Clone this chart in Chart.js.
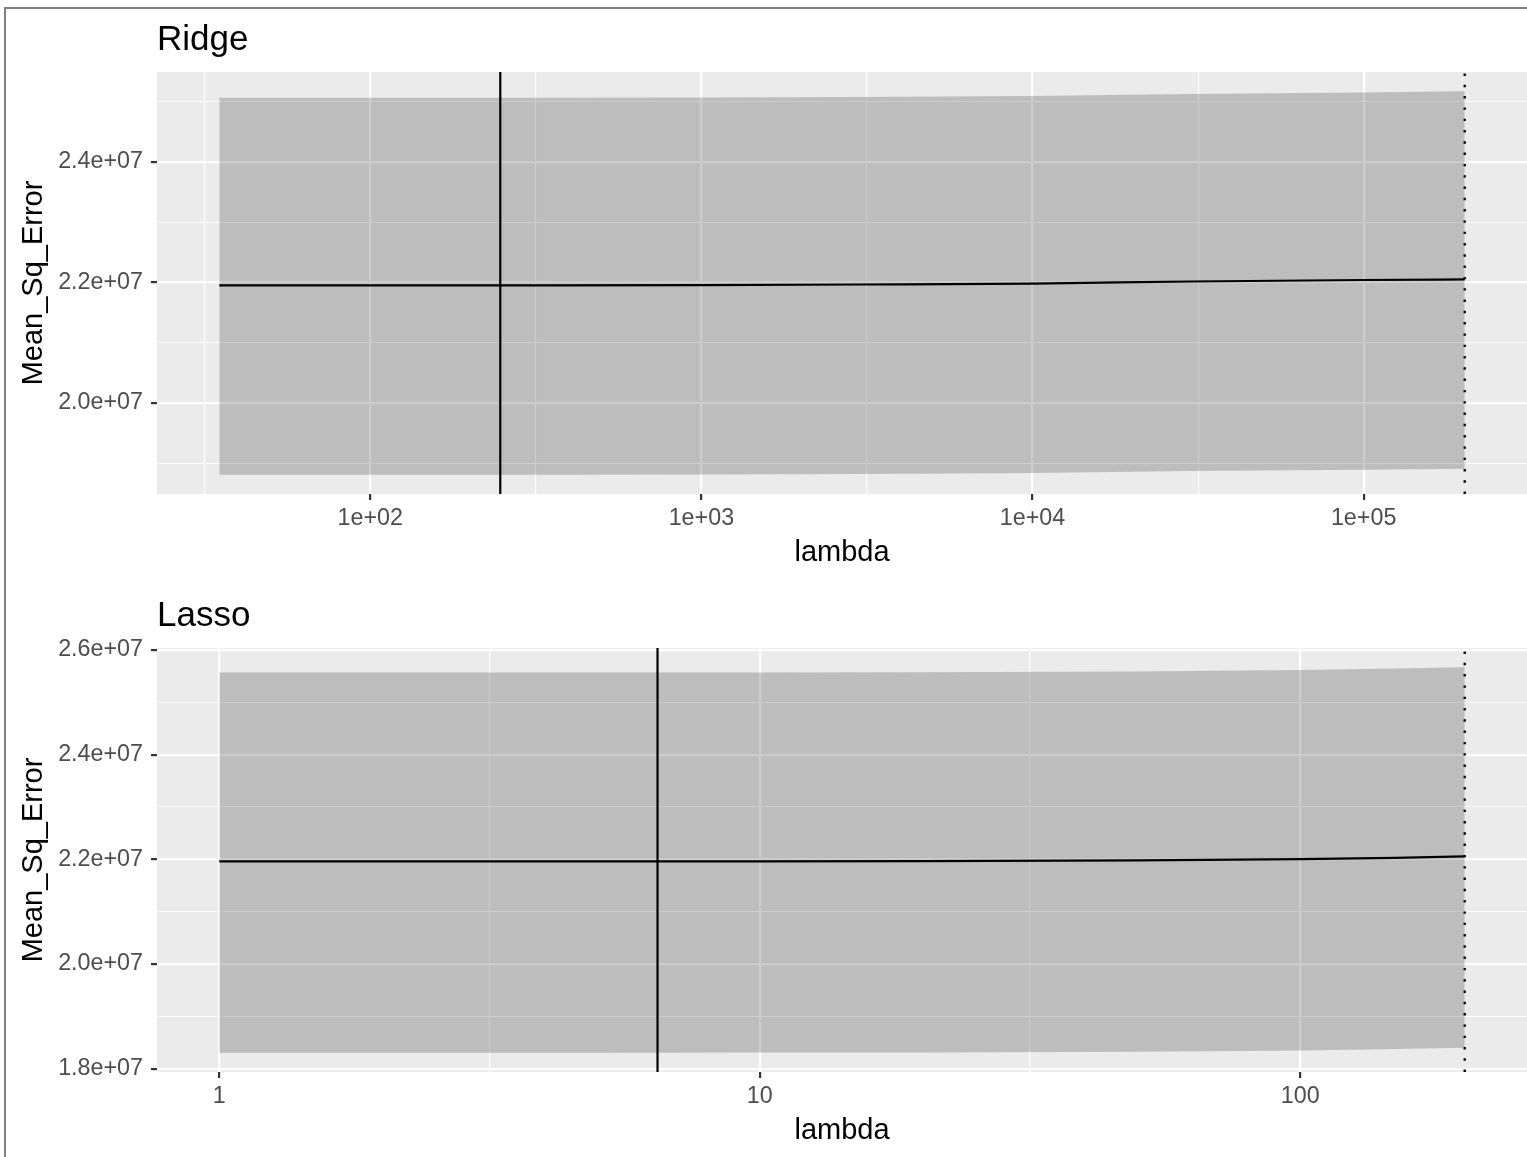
<!DOCTYPE html>
<html>
<head>
<meta charset="utf-8">
<title>Ridge / Lasso CV error</title>
<script src="https://cdn.jsdelivr.net/npm/chart.js@4.4.0/dist/chart.umd.min.js"></script>
<style>
  html, body { margin: 0; padding: 0; background: #fff; overflow: hidden; }
  #page { position: relative; width: 1527px; height: 1157px; overflow: hidden; }
  #frame { position: absolute; left: 4px; top: 7px; width: 1600px; height: 1200px; border: 2px solid #808080; }
  canvas { position: absolute; left: 0; }
  #ridgeChart { top: 0; }
  #lassoChart { top: 576px; }
</style>
</head>
<body>
<div id="page">
  <div id="frame"></div>
  <canvas id="ridgeChart" width="1527" height="576"></canvas>
  <canvas id="lassoChart" width="1527" height="578"></canvas>
</div>
<script>
const FONT = '"Liberation Sans", Arial, Helvetica, sans-serif';

// Ridge: lambda grid, mean CV error and +/- 1 se band
const ridgeLambda = [35, 100, 300, 1000, 3000, 10000, 30000, 100000, 202000];
const ridgeMse    = [2.195e7, 2.195e7, 2.195e7, 2.1955e7, 2.1965e7, 2.198e7, 2.2015e7, 2.204e7, 2.205e7];
const ridgeUpper  = [2.506e7, 2.506e7, 2.506e7, 2.5065e7, 2.5075e7, 2.509e7, 2.5125e7, 2.515e7, 2.517e7];
const ridgeLower  = [1.881e7, 1.881e7, 1.881e7, 1.8815e7, 1.8825e7, 1.884e7, 1.8875e7, 1.8895e7, 1.891e7];
const ridgeBest   = 247;
const ridgeXMajor = [1e2, 1e3, 1e4, 1e5];
const ridgeXMinor = [31.62, 316.2, 3162, 31623];
const ridgeYMajor = [2.0e7, 2.2e7, 2.4e7];
const ridgeYMinor = [1.9e7, 2.1e7, 2.3e7, 2.5e7];

// Lasso
const lassoLambda = [1, 2, 5, 10, 20, 50, 100, 150, 201.6];
const lassoMse    = [2.196e7, 2.196e7, 2.196e7, 2.196e7, 2.1965e7, 2.198e7, 2.2005e7, 2.203e7, 2.2057e7];
const lassoUpper  = [2.557e7, 2.557e7, 2.557e7, 2.557e7, 2.5575e7, 2.559e7, 2.562e7, 2.5645e7, 2.567e7];
const lassoLower  = [1.8306e7, 1.8306e7, 1.8306e7, 1.8308e7, 1.8312e7, 1.8325e7, 1.835e7, 1.8375e7, 1.840e7];
const lassoBest   = 6.47;
const lassoXMajor = [1, 10, 100];
const lassoXMinor = [3.162, 31.62];
const lassoYMajor = [1.8e7, 2.0e7, 2.2e7, 2.4e7, 2.6e7];
const lassoYMinor = [1.9e7, 2.1e7, 2.3e7, 2.5e7];

// ggplot-style 5% expansion of the data range
function expandLog(vals) {
    const lo = Math.log10(Math.min(...vals));
    const hi = Math.log10(Math.max(...vals));
    const pad = (hi - lo) * 0.05;
    return [Math.pow(10, lo - pad), Math.pow(10, hi + pad)];
}
function expandLin(vals) {
    const lo = Math.min(...vals), hi = Math.max(...vals);
    const pad = (hi - lo) * 0.05;
    return [lo - pad, hi + pad];
}
const isIn = (list, v) => list.some(m => Math.abs(m - v) / m < 1e-6);

const panelBg = {
    id: 'panelBg',
    beforeDraw(chart) {
        const { ctx, chartArea: a } = chart;
        ctx.save();
        ctx.fillStyle = '#EBEBEB';
        ctx.fillRect(a.left, a.top, a.right - a.left, a.bottom - a.top);
        ctx.restore();
    }
};

const expLabel = v => '1e+' + String(Math.round(Math.log10(v))).padStart(2, '0');
const sciLabel = v => (v / 1e7).toFixed(1) + 'e+07';

function drawPanel(id, p) {
    const [xMin, xMax] = expandLog(p.lambda);
    const [yMin, yMax] = expandLin(p.upper.concat(p.lower));
    const pts = ys => p.lambda.map((x, i) => ({ x, y: ys[i] }));
    const maxLambda = Math.max(...p.lambda);
    const xTicks = p.xMajor.concat(p.xMinor).sort((a, b) => a - b);
    const yTicks = p.yMajor.concat(p.yMinor).sort((a, b) => a - b);

    const grid = minorList => ({
        color: '#FFFFFF',
        lineWidth: c => (c.tick && isIn(minorList, c.tick.value)) ? 1.1 : 2.2,
        tickColor: c => (c.tick && isIn(minorList, c.tick.value)) ? 'rgba(0,0,0,0)' : '#333333',
        tickWidth: 2.2,
        tickLength: 6
    });

    new Chart(document.getElementById(id), {
        type: 'line',
        data: {
            datasets: [
                { data: [{ x: p.best, y: yMin }, { x: p.best, y: yMax }], borderColor: '#000', borderWidth: 2.2 },
                { data: [{ x: maxLambda, y: yMin }, { x: maxLambda, y: yMax }], borderColor: '#000', borderWidth: 2.4, borderDash: [2.4, 8.9] },
                { data: pts(p.mse), borderColor: '#000', borderWidth: 2.2, cubicInterpolationMode: 'monotone' },
                { data: pts(p.upper), borderColor: 'rgba(0,0,0,0)', borderWidth: 0, backgroundColor: 'rgba(51,51,51,0.25)', fill: '+1' },
                { data: pts(p.lower), borderColor: 'rgba(0,0,0,0)', borderWidth: 0, fill: false }
            ]
        },
        options: {
            responsive: false,
            animation: false,
            events: [],
            layout: { padding: 0 },
            elements: { point: { radius: 0 } },
            plugins: {
                legend: { display: false },
                tooltip: { enabled: false },
                title: {
                    display: true,
                    text: p.title,
                    align: 'start',
                    fullSize: false,
                    color: '#000',
                    font: { family: FONT, size: 35, weight: 'normal' },
                    padding: { top: 19, bottom: 11 }
                }
            },
            scales: {
                x: {
                    type: 'logarithmic',
                    min: xMin,
                    max: xMax,
                    afterBuildTicks: s => { s.ticks = xTicks.map(v => ({ value: v })); },
                    afterFit: s => { s.height = 82; },
                    ticks: {
                        autoSkip: false,
                        maxRotation: 0,
                        padding: 4.5,
                        color: '#4D4D4D',
                        font: { family: FONT, size: 23.3 },
                        callback: v => isIn(p.xMinor, v) ? '' : p.xFmt(v)
                    },
                    grid: grid(p.xMinor),
                    border: { display: false },
                    title: {
                        display: true,
                        text: 'lambda',
                        color: '#000',
                        font: { family: FONT, size: 29 },
                        padding: { top: 0, bottom: 6 }
                    }
                },
                y: {
                    type: 'linear',
                    min: yMin,
                    max: yMax,
                    afterBuildTicks: s => { s.ticks = yTicks.map(v => ({ value: v })); },
                    afterFit: s => { s.width = 157; },
                    ticks: {
                        autoSkip: false,
                        padding: 8,
                        color: '#4D4D4D',
                        font: { family: FONT, size: 23.3 },
                        callback: v => isIn(p.yMinor, v) ? '' : sciLabel(v)
                    },
                    grid: grid(p.yMinor),
                    border: { display: false },
                    title: {
                        display: true,
                        text: 'Mean_Sq_Error',
                        color: '#000',
                        font: { family: FONT, size: 29 },
                        padding: { top: 16.6, bottom: 0 }
                    }
                }
            }
        },
        plugins: [panelBg]
    });
}

drawPanel('ridgeChart', {
    title: 'Ridge',
    lambda: ridgeLambda, mse: ridgeMse, upper: ridgeUpper, lower: ridgeLower, best: ridgeBest,
    xMajor: ridgeXMajor, xMinor: ridgeXMinor, yMajor: ridgeYMajor, yMinor: ridgeYMinor,
    xFmt: expLabel
});

drawPanel('lassoChart', {
    title: 'Lasso',
    lambda: lassoLambda, mse: lassoMse, upper: lassoUpper, lower: lassoLower, best: lassoBest,
    xMajor: lassoXMajor, xMinor: lassoXMinor, yMajor: lassoYMajor, yMinor: lassoYMinor,
    xFmt: v => String(v)
});
</script>
</body>
</html>
